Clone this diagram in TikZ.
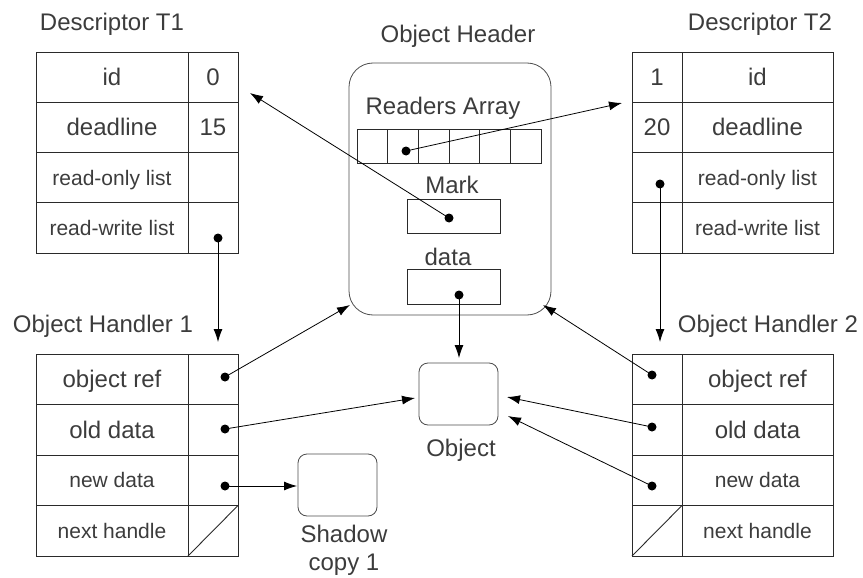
\documentclass[tikz,border=0pt]{standalone}
\usepackage{fontspec}
\setmainfont{Liberation Sans}
\usetikzlibrary{arrows.meta}
\definecolor{txtgray}{HTML}{3C3C3C}
\definecolor{linegray}{HTML}{2A2A2A}

\begin{document}
\begin{tikzpicture}[x=1pt, y=-1pt, line width=0.9pt, draw=linegray,
	big/.style={font=\fontsize{24}{28}\selectfont, text=txtgray, text height=17.2pt, text depth=0pt, inner sep=0pt},
	small/.style={font=\fontsize{21}{25}\selectfont, text=txtgray, text height=15.1pt, text depth=0pt, inner sep=0pt},
	title/.style={font=\fontsize{24}{28}\selectfont, text=txtgray, anchor=base, inner sep=0pt},
	dot/.style={circle, fill=black, inner sep=0pt, minimum size=9pt},
	ptr/.style={-{Latex[length=13pt,width=9pt]}, draw=black, line width=0.8pt},
	rbox/.style={draw=black!70, line width=0.8pt, rounded corners=9pt}]
	\useasboundingbox (0,0) rectangle (863,578);

	% Descriptor T1
	\node[title] (t1name) at (112,31) {Descriptor T1};
	\draw (36,52) rectangle (188,102.25) node[pos=.5,big] (t1id) {id};
	\draw (188,52) rectangle (238,102.25) node[pos=.5,big] (t1idv) {0};
	\draw (36,102.25) rectangle (188,152.5) node[pos=.5,big] (t1dl) {deadline};
	\draw (188,102.25) rectangle (238,152.5) node[pos=.5,big] (t1dlv) {15};
	\draw (36,152.5) rectangle (188,202.75) node[pos=.5,small] (t1ro) {read-only list};
	\draw (188,152.5) rectangle (238,202.75);
	\draw (36,202.75) rectangle (188,253) node[pos=.5,small] (t1rw) {read-write list};
	\draw (188,202.75) rectangle (238,253);
	\node[dot] (t1rwp) at (218,238) {};

	% Descriptor T2
	\node[title] (t2name) at (760,31) {Descriptor T2};
	\draw (632,52) rectangle (682,102.25) node[pos=.5,big] (t2idv) {1};
	\draw (682,52) rectangle (833,102.25) node[pos=.5,big] (t2id) {id};
	\draw (632,102.25) rectangle (682,152.5) node[pos=.5,big] (t2dlv) {20};
	\draw (682,102.25) rectangle (833,152.5) node[pos=.5,big] (t2dl) {deadline};
	\draw (632,152.5) rectangle (682,202.75);
	\draw (682,152.5) rectangle (833,202.75) node[pos=.5,small] (t2ro) {read-only list};
	\draw (632,202.75) rectangle (682,253);
	\draw (682,202.75) rectangle (833,253) node[pos=.5,small] (t2rw) {read-write list};
	\node[dot] (t2rop) at (660,184) {};

	% Object Header
	\node[title] (hdrname) at (458,43) {Object Header};
	\draw[rbox, rounded corners=24pt] (349,63) rectangle (551,315);
	\node[title] (raname) at (443,114) {Readers Array};
	\foreach \i in {0,...,5}
		\draw (357+\i*30.67,129) rectangle ++(30.67,34);
	\node[dot] (rap) at (406,151) {};
	\node[title] (mkname) at (452,193) {Mark};
	\draw (407,199) rectangle (500,233);
	\node[dot] (mkp) at (449,218) {};
	\node[title] (dtname) at (448,265) {data};
	\draw (407,269) rectangle (500,304);
	\node[dot] (dtp) at (459,295) {};

	% Object Handler 1
	\node[title] (h1name) at (103,332) {Object Handler 1};
	\draw (36,354) rectangle (188,404.5) node[pos=.5,big] (h1or) {object ref};
	\draw (188,354) rectangle (238,404.5);
	\draw (36,404.5) rectangle (188,455) node[pos=.5,big] (h1od) {old data};
	\draw (188,404.5) rectangle (238,455);
	\draw (36,455) rectangle (188,505.5) node[pos=.5,small] (h1nd) {new data};
	\draw (188,455) rectangle (238,505.5);
	\draw (36,505.5) rectangle (188,556) node[pos=.5,small] (h1nh) {next handle};
	\draw (188,505.5) rectangle (238,556);
	\draw (188,556) -- (238,505.5);
	\node[dot] (h1orp) at (225,377) {};
	\node[dot] (h1odp) at (225,429) {};
	\node[dot] (h1ndp) at (225,486) {};

	% Object Handler 2
	\node[title] (h2name) at (768,332) {Object Handler 2};
	\draw (632,354) rectangle (682,404.5);
	\draw (682,354) rectangle (833,404.5) node[pos=.5,big] (h2or) {object ref};
	\draw (632,404.5) rectangle (682,455);
	\draw (682,404.5) rectangle (833,455) node[pos=.5,big] (h2od) {old data};
	\draw (632,455) rectangle (682,505.5);
	\draw (682,455) rectangle (833,505.5) node[pos=.5,small] (h2nd) {new data};
	\draw (632,505.5) rectangle (682,556);
	\draw (682,505.5) rectangle (833,556) node[pos=.5,small] (h2nh) {next handle};
	\draw (632,556) -- (682,505.5);
	\node[dot] (h2orp) at (652,375) {};
	\node[dot] (h2odp) at (652,427) {};
	\node[dot] (h2ndp) at (652,486) {};

	% Object and shadow copy
	\draw[rbox] (419,363) rectangle (498,425);
	\node[title] (objname) at (461,456) {Object};
	\draw[rbox] (298,454) rectangle (377,516);
	\node[title, align=center] (shname) at (344,570) {Shadow\\copy 1};

	% arrow ends
	\coordinate (h1in) at (218,342);
	\coordinate (h2in) at (660,342);
	\coordinate (hdrsw) at (350,305);
	\coordinate (hdrse) at (543,305);
	\coordinate (objn) at (459,358);
	\coordinate (objw) at (415,398);
	\coordinate (obje) at (507,397);
	\coordinate (objse) at (508,416);
	\coordinate (shw) at (297,486);
	\coordinate (t1in) at (250,93);
	\coordinate (t2in) at (622,103);

	% pointers
	\draw[ptr] (t1rwp.center) -- (h1in);
	\draw[ptr] (t2rop.center) -- (h2in);
	\draw[ptr] (h1orp.center) -- (hdrsw);
	\draw[ptr] (h2orp.center) -- (hdrse);
	\draw[ptr] (h1odp.center) -- (objw);
	\draw[ptr] (h2odp.center) -- (obje);
	\draw[ptr] (h2ndp.center) -- (objse);
	\draw[ptr] (h1ndp.center) -- (shw);
	\draw[ptr] (dtp.center) -- (objn);
	\draw[ptr] (mkp.center) -- (t1in);
	\draw[ptr] (rap.center) -- (t2in);
\end{tikzpicture}
\end{document}
